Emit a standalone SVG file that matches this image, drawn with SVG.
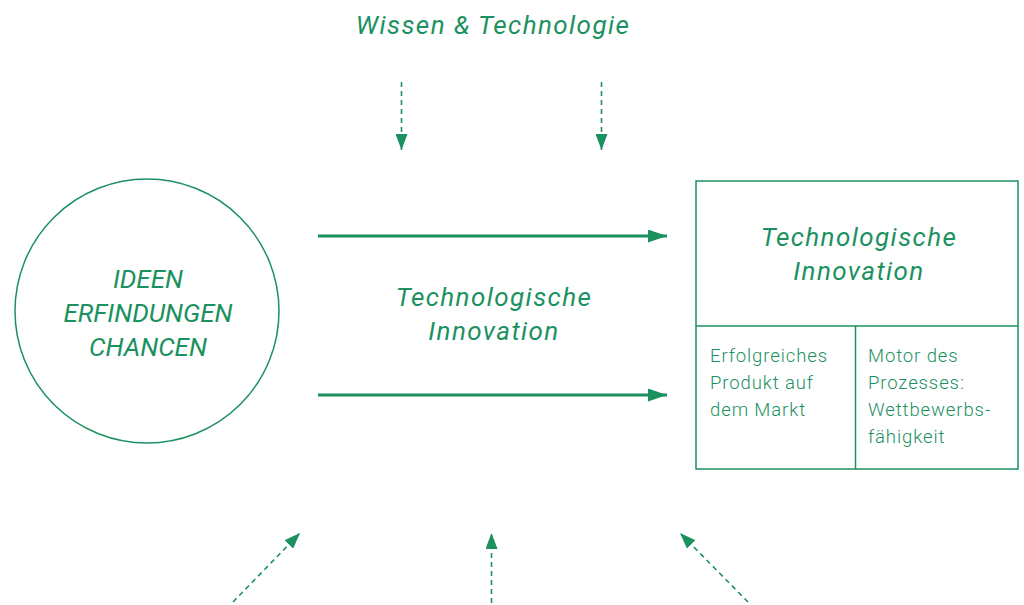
<svg xmlns="http://www.w3.org/2000/svg" width="1024" height="605" viewBox="0 0 1024 605">
<style>
.t{font-family:Roboto,"Liberation Sans",sans-serif;font-style:italic;fill:#1b915f;font-size:26px;text-anchor:middle;letter-spacing:1.4px}
.cap{letter-spacing:0}
.c{font-family:Roboto,"Liberation Sans",sans-serif;fill:#1b915f;font-size:18.5px;font-weight:300;letter-spacing:0.9px}
.sh{fill:none;stroke:#1b915f;stroke-width:1.5}
.solid{stroke:#1b915f;stroke-width:3;fill:none}
.dash{stroke:#1b915f;stroke-width:1.6;stroke-dasharray:5 4;fill:none}
</style>
<defs>
<marker id="ahs" viewBox="0 0 10 10" refX="10" refY="5" markerWidth="19" markerHeight="13" markerUnits="userSpaceOnUse" orient="auto" preserveAspectRatio="none"><path d="M0,0L10,5L0,10z" fill="#1b915f"/></marker>
<marker id="ahd" viewBox="0 0 10 10" refX="10" refY="5" markerWidth="16" markerHeight="12" markerUnits="userSpaceOnUse" orient="auto" preserveAspectRatio="none"><path d="M0,0L10,5L0,10z" fill="#1b915f"/></marker>
</defs>
<g id="title"><text class="t" x="493" y="34">Wissen &amp; Technologie</text></g>
<g id="circle">
<circle class="sh" cx="147" cy="311" r="132"/>
<text class="t cap" x="148" y="288">IDEEN</text>
<text class="t cap" x="148" y="322">ERFINDUNGEN</text>
<text class="t cap" x="148" y="356">CHANCEN</text>
</g>
<g id="middle-label">
<text class="t" x="494" y="306">Technologische</text>
<text class="t" x="494" y="340">Innovation</text>
</g>
<g id="box">
<rect class="sh" x="696" y="181" width="322" height="288"/>
<line class="sh" x1="696" y1="326" x2="1018" y2="326"/>
<line class="sh" x1="855.5" y1="326" x2="855.5" y2="469"/>
<text class="t" x="859" y="246">Technologische</text>
<text class="t" x="859" y="280">Innovation</text>
<text class="c" x="710" y="362">Erfolgreiches</text>
<text class="c" x="710" y="389">Produkt auf</text>
<text class="c" x="710" y="416">dem Markt</text>
<text class="c" x="868" y="362">Motor des</text>
<text class="c" x="868" y="389">Prozesses:</text>
<text class="c" x="868" y="416">Wettbewerbs-</text>
<text class="c" x="868" y="443">fähigkeit</text>
</g>
<g id="connectors">
<line class="solid" x1="318" y1="236" x2="667" y2="236" marker-end="url(#ahs)"/>
<line class="solid" x1="318" y1="395" x2="667" y2="395" marker-end="url(#ahs)"/>
<line class="dash" x1="401.5" y1="82" x2="401.5" y2="150" marker-end="url(#ahd)"/>
<line class="dash" x1="601.5" y1="82" x2="601.5" y2="150" marker-end="url(#ahd)"/>
<line class="dash" x1="233" y1="602" x2="300" y2="533" marker-end="url(#ahd)"/>
<line class="dash" x1="491.5" y1="603" x2="491.5" y2="533" marker-end="url(#ahd)"/>
<line class="dash" x1="748" y1="602" x2="680" y2="533" marker-end="url(#ahd)"/>
</g>
</svg>
